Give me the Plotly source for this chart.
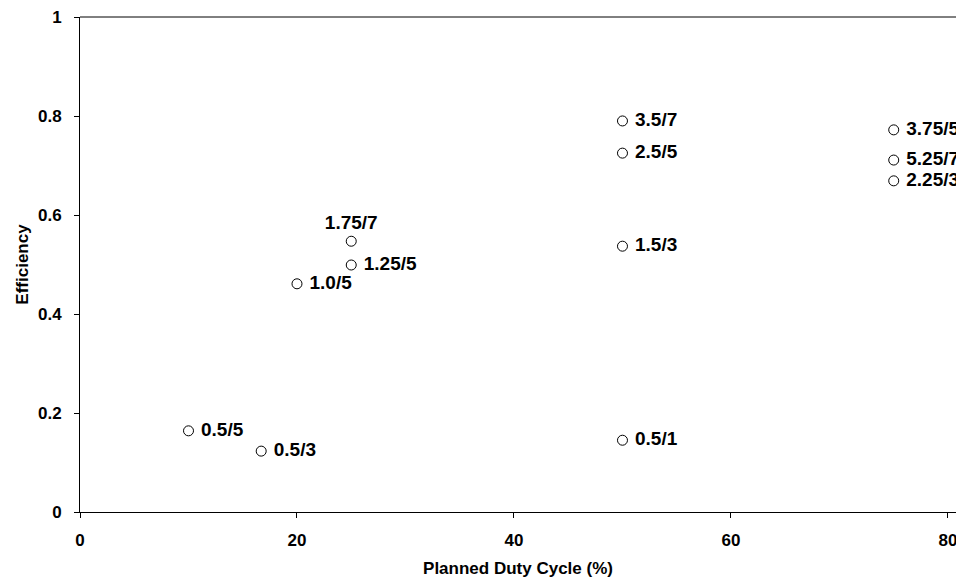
import plotly.graph_objects as go

duty = [10, 16.7, 20, 25, 25, 50, 50, 50, 50, 75, 75, 75]
eff = [0.164, 0.123, 0.461, 0.547, 0.499, 0.790, 0.725, 0.537, 0.145, 0.772, 0.711, 0.669]
labels = ["0.5/5", "0.5/3", "1.0/5", "1.75/7", "1.25/5", "3.5/7", "2.5/5", "1.5/3",
          "0.5/1", "3.75/5", "5.25/7", "2.25/3"]
positions = ["middle right"] * 12
positions[3] = "top center"
shown = [(" " + t if p == "middle right" else t) for t, p in zip(labels, positions)]

FONT = "Liberation Sans, Arial, sans-serif"

fig = go.Figure()
fig.add_trace(go.Scatter(
    x=duty, y=eff, mode="markers+text", text=shown,
    textposition=positions,
    textfont=dict(family=FONT, size=19, color="black", weight="bold"),
    marker=dict(symbol="circle", size=10, color="white",
                line=dict(color="black", width=1)),
    cliponaxis=False, showlegend=False,
))

fig.update_layout(
    width=956, height=586,
    margin=dict(l=80, r=0, t=17, b=74),
    plot_bgcolor="white", paper_bgcolor="white",
    font=dict(family=FONT, color="black"),
)
fig.update_xaxes(
    range=[0, 80.74], tickvals=[0, 20, 40, 60, 80],
    showgrid=False, zeroline=False,
    showline=True, linecolor="black", linewidth=1, mirror=False,
    ticks="outside", ticklen=5, tickcolor="black",
    tickfont=dict(family=FONT, size=17, weight="bold"),
    ticklabeloverflow="allow", ticklabelstandoff=8,
    title=dict(text="Planned Duty Cycle (%)", standoff=12,
               font=dict(family=FONT, size=17, weight="bold")),
)
fig.update_yaxes(
    range=[0, 1], tickvals=[0, 0.2, 0.4, 0.6, 0.8, 1],
    ticktext=["0", "0.2", "0.4", "0.6", "0.8", "1"],
    showgrid=False, zeroline=False,
    showline=True, linecolor="black", linewidth=1,
    ticks="outside", ticklen=5, tickcolor="black",
    tickfont=dict(family=FONT, size=17, weight="bold"),
    ticklabelstandoff=9,
    title=dict(text="Efficiency", standoff=5,
               font=dict(family=FONT, size=17, weight="bold")),
)
# top border line
fig.add_shape(type="line", xref="paper", yref="paper", x0=0, x1=1, y0=1, y1=1,
              line=dict(color="black", width=1))

fig.write_html("out.html")
